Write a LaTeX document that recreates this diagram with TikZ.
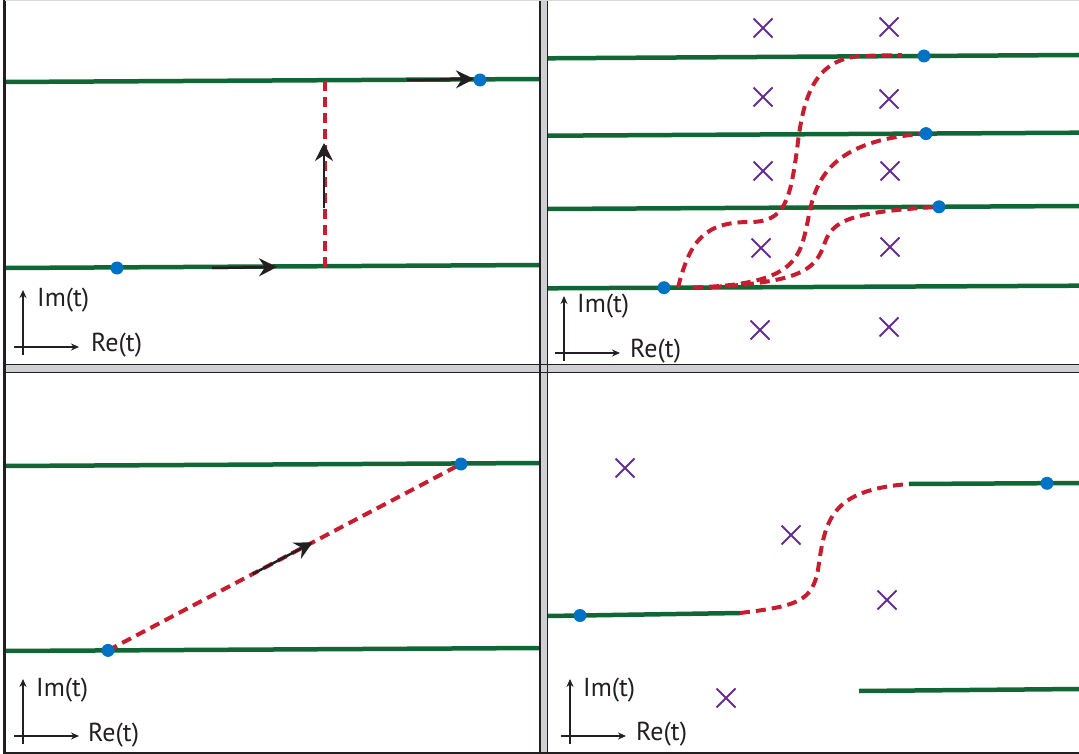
\documentclass[tikz,border=0pt]{standalone}
\usepackage{fontspec}
\setmainfont{PT Sans}
\usetikzlibrary{calc,shapes.misc,arrows.meta}

\definecolor{sheetgreen}{RGB}{16,102,52}
\definecolor{contourred}{RGB}{198,30,48}
\definecolor{dotblue}{RGB}{0,114,198}
\definecolor{polepurple}{RGB}{102,45,145}
\definecolor{inkblack}{RGB}{35,31,32}
\definecolor{bandgray}{RGB}{206,208,211}

\begin{document}
\begin{tikzpicture}[
  x=1pt, y=-1pt,
  font=\fontsize{26}{30}\selectfont,
  sheet/.style={line width=4.5pt, color=sheetgreen},
  contour/.style={line width=4pt, color=contourred, dash pattern=on 10pt off 6pt},
  dir/.style={-{Stealth[length=18pt,width=18pt,inset=6pt]}, line width=2.5pt, color=inkblack},
  axis/.style={-{Stealth[length=8pt,width=7pt]}, line width=1.7pt, color=inkblack},
  axlabel/.style={anchor=west, inner sep=0pt, text=inkblack},
  endpt/.style={circle, fill=dotblue, minimum size=13pt, inner sep=0pt},
  pole/.style={cross out, draw=polepurple, line width=2pt, minimum size=17pt, inner sep=0pt},
  rule/.style={line width=1.5pt, color=inkblack},
]
\useasboundingbox (0,0) rectangle (1079,754);

% top left
\coordinate (la1) at (5,268);   \coordinate (lb1) at (540,265);
\coordinate (la2) at (5,82);    \coordinate (lb2) at (540,79);
\coordinate (s1) at (117,268);  \coordinate (e1) at (480,80);
\coordinate (v1) at (325,267);  \coordinate (v2) at (325,81);
\draw[sheet] (la1) -- (lb1);
\draw[sheet] (la2) -- (lb2);
\draw[contour] (v1) -- (v2);
\draw[dir] ($(s1)+(95,0)$) -- ++(65,-1);
\draw[dir] ($(v1)+(-1,-59)$) -- ++(0,-65);
\draw[dir] ($(e1)+(-73,0)$) -- ++(67,-1);
\node[endpt] (d1) at (s1) {};
\node[endpt] (d2) at (e1) {};

% top right
\coordinate (ra1) at (548,58.3);  \coordinate (rb1) at (1079,55);
\coordinate (ra2) at (548,135.7); \coordinate (rb2) at (1079,132.7);
\coordinate (ra3) at (548,209);   \coordinate (rb3) at (1079,206);
\coordinate (ra4) at (548,288.3); \coordinate (rb4) at (1079,285.7);
\draw[sheet] (ra1) -- (rb1);
\draw[sheet] (ra2) -- (rb2);
\draw[sheet] (ra3) -- (rb3);
\draw[sheet] (ra4) -- (rb4);
\node[pole] (x1) at (763,28) {};
\node[pole] (x2) at (889,27) {};
\node[pole] (x3) at (763,97) {};
\node[pole] (x4) at (889,99) {};
\node[pole] (x5) at (763,171) {};
\node[pole] (x6) at (890,171) {};
\node[pole] (x7) at (761,248) {};
\node[pole] (x8) at (890,247) {};
\node[pole] (x9) at (760,330) {};
\node[pole] (x10) at (889,327) {};
\coordinate (s2) at (664,287.7);
\coordinate (e2) at (924,56);
\coordinate (e3) at (926,133.6);
\coordinate (e4) at (939,206.8);
\draw[contour] (678,287.6) .. controls (690,240) and (705,222) .. (750,222)
  .. controls (785,222) and (790,200) .. (797,150)
  .. controls (803,95) and (815,60) .. (860,56) -- (902,55);
\draw[contour] (693,287.4) .. controls (800,285) and (800,255) .. (808,220)
  .. controls (815,180) and (830,140) .. (e3);
\draw[contour] (712,287) .. controls (800,282) and (815,270) .. (824,245)
  .. controls (832,220) and (850,212) .. (e4);
\node[endpt] (d3) at (s2) {};
\node[endpt] (d4) at (e2) {};
\node[endpt] (d5) at (e3) {};
\node[endpt] (d6) at (e4) {};

% bottom left
\coordinate (ba1) at (5,651);  \coordinate (bb1) at (540,648);
\coordinate (ba2) at (5,466);  \coordinate (bb2) at (540,463);
\coordinate (s3) at (108,650.4); \coordinate (e5) at (461,464);
\draw[sheet] (ba1) -- (bb1);
\draw[sheet] (ba2) -- (bb2);
\draw[contour] (s3) -- (e5);
\draw[dir] ($(s3)!0.41!(e5)$) -- ($(s3)!0.58!(e5)$);
\node[endpt] (d7) at (s3) {};
\node[endpt] (d8) at (e5) {};

% bottom right
\coordinate (ca1) at (548,616);  \coordinate (cb1) at (740,613);
\coordinate (ca2) at (909,484);  \coordinate (cb2) at (1079,483);
\coordinate (ca3) at (859,691);  \coordinate (cb3) at (1079,689);
\coordinate (s4) at (580,615.5); \coordinate (e6) at (1047,483.3);
\draw[sheet] (ca1) -- (cb1);
\draw[sheet] (ca2) -- (cb2);
\draw[sheet] (ca3) -- (cb3);
\draw[contour] (cb1) .. controls (800,606) and (812,600) .. (818,570)
  .. controls (825,520) and (830,490) .. (ca2);
\node[pole] (x11) at (625,468) {};
\node[pole] (x12) at (791,535) {};
\node[pole] (x13) at (887,600) {};
\node[pole] (x14) at (726,698) {};
\node[endpt] (d9) at (s4) {};
\node[endpt] (d10) at (e6) {};

% axes
\coordinate (o1) at (23,347);
\coordinate (o2) at (564,353);
\coordinate (o3) at (23,736);
\coordinate (o4) at (570,736);
\draw[axis] ($(o1)+(0,8)$) -- ++(0,-65);
\draw[axis] ($(o1)+(-9,0)$) -- ++(65,0);
\node[axlabel] (im1) at ($(o1)+(14,-47)$) {Im(t)};
\node[axlabel] (re1) at ($(o1)+(68,-2)$) {Re(t)};
\draw[axis] ($(o2)+(0,8)$) -- ++(0,-65);
\draw[axis] ($(o2)+(-9,0)$) -- ++(65,0);
\node[axlabel] (im2) at ($(o2)+(13,-47)$) {Im(t)};
\node[axlabel] (re2) at ($(o2)+(66,-2)$) {Re(t)};
\draw[axis] ($(o3)+(0,8)$) -- ++(0,-65);
\draw[axis] ($(o3)+(-9,0)$) -- ++(65,0);
\node[axlabel] (im3) at ($(o3)+(13,-46)$) {Im(t)};
\node[axlabel] (re3) at ($(o3)+(65,-1)$) {Re(t)};
\draw[axis] ($(o4)+(0,8)$) -- ++(0,-65);
\draw[axis] ($(o4)+(-9,0)$) -- ++(65,0);
\node[axlabel] (im4) at ($(o4)+(13,-46)$) {Im(t)};
\node[axlabel] (re4) at ($(o4)+(66,-2)$) {Re(t)};

% frame
\fill[bandgray] (540,0) rectangle (548,754);
\fill[bandgray] (5,364) rectangle (1079,373);
\draw[rule] (540,0) -- (540,754);
\draw[rule] (547.5,0) -- (547.5,754);
\draw[rule] (5,364.5) -- (1079,364.5);
\draw[rule] (5,372.5) -- (1079,372.5);
\draw[line width=2.5pt, color=inkblack] (4.5,0) -- (4.5,754);
\draw[line width=2pt, color=inkblack] (4,752.5) -- (1079,752.5);
\draw[line width=1.5pt, color=black!15] (5,0.75) -- (1079,0.75);

\end{tikzpicture}
\end{document}
